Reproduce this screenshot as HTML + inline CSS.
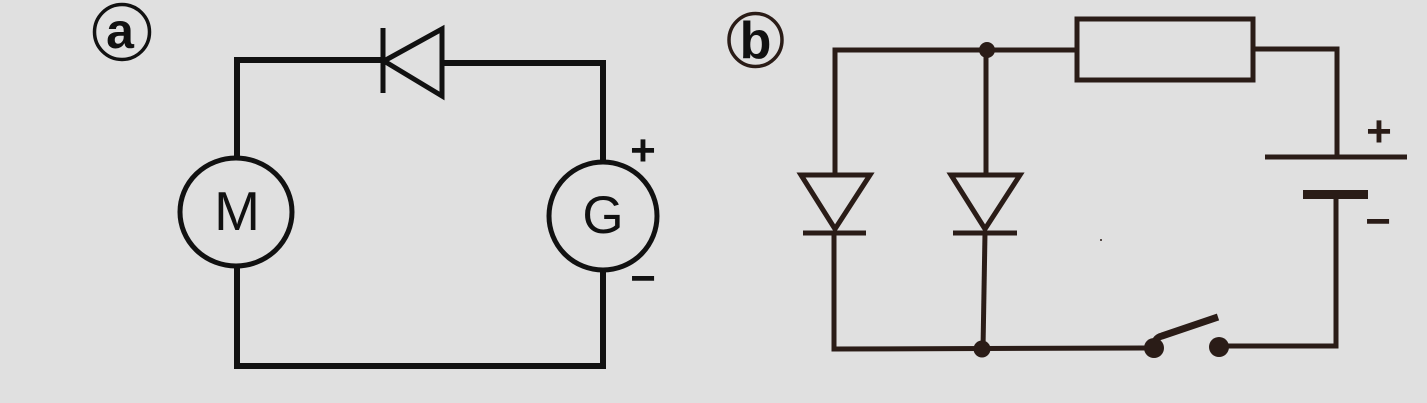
<!DOCTYPE html>
<html>
<head>
<meta charset="utf-8">
<style>
  html,body{margin:0;padding:0;background:#e0e0e0;}
  svg{display:block;}
  text{font-family:"Liberation Sans",sans-serif;}
</style>
</head>
<body>
<svg width="1427" height="403" viewBox="0 0 1427 403" xmlns="http://www.w3.org/2000/svg">
  <rect x="0" y="0" width="1427" height="403" fill="#e0e0e0"/>

  <!-- Panel a -->
  <g stroke="#111" fill="none" stroke-width="6" stroke-linejoin="miter">
    <circle cx="122" cy="32" r="27.5" stroke-width="3.5"/>
    <path d="M237,159 L237,60 L383,60"/>
    <line x1="383" y1="28" x2="383" y2="93" stroke-width="5"/>
    <polygon points="384,61 442,29 442,96" stroke-width="5"/>
    <path d="M442,63 L603,63 L603,162"/>
    <ellipse cx="236" cy="212" rx="56" ry="54" stroke-width="5"/>
    <ellipse cx="603" cy="216" rx="54" ry="54" stroke-width="5"/>
    <path d="M237,266 L237,366 L603,366 L603,270"/>
  </g>
  <text x="120" y="48" font-size="50" font-weight="bold" text-anchor="middle" fill="#111">a</text>
  <text x="237" y="230" font-size="55" text-anchor="middle" fill="#111">M</text>
  <text x="603" y="233" font-size="53" text-anchor="middle" fill="#111">G</text>
  <text x="643" y="165" font-size="44" font-weight="bold" text-anchor="middle" fill="#111">+</text>
  <text x="643" y="293" font-size="44" font-weight="bold" text-anchor="middle" fill="#111">−</text>

  <!-- Panel b -->
  <g stroke="#2a1c17" fill="none" stroke-width="5" stroke-linejoin="miter">
    <circle cx="755.5" cy="40" r="26.5" stroke-width="3.5"/>
    <path d="M835,175 L835,50 L1077,50"/>
    <line x1="986" y1="50" x2="986" y2="175"/>
    <rect x="1077" y="19" width="176" height="61"/>
    <path d="M1253,49 L1337,49 L1337,157"/>
    <line x1="1265" y1="157" x2="1407" y2="157"/>
    <line x1="1303" y1="194.5" x2="1368" y2="194.5" stroke-width="9"/>
    <path d="M1336,199 L1336,346 L1219,346"/>
    <path d="M1155,346 Q1154,338 1162,336 L1218,317" stroke-width="7"/>
    <path d="M1154,348 L834,349 L834,233"/>
    <path d="M983,349 L985,233"/>
    <polygon points="801,175 870,175 835,229"/>
    <line x1="803" y1="233" x2="866" y2="233"/>
    <polygon points="951,175 1020,175 985,229"/>
    <line x1="953" y1="233" x2="1017" y2="233"/>
  </g>
  <g fill="#2a1c17">
    <circle cx="987" cy="50" r="8"/>
    <circle cx="982" cy="349" r="8.5"/>
    <circle cx="1154" cy="348" r="10"/>
    <circle cx="1219" cy="347" r="10"/>
    <circle cx="1101" cy="240" r="1"/>
  </g>
  <text x="755.5" y="58" font-size="52" font-weight="bold" text-anchor="middle" fill="#111">b</text>
  <text x="1379" y="146" font-size="44" font-weight="bold" text-anchor="middle" fill="#2a1c17">+</text>
  <text x="1378" y="236" font-size="44" font-weight="bold" text-anchor="middle" fill="#2a1c17">−</text>
</svg>
</body>
</html>
